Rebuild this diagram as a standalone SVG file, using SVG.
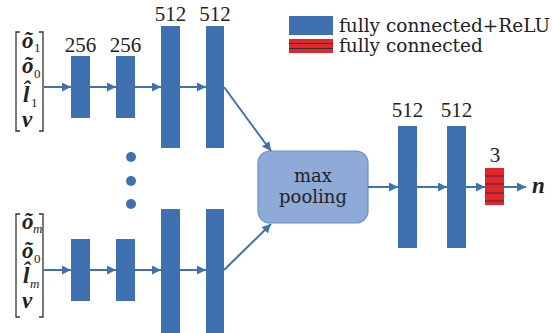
<svg xmlns="http://www.w3.org/2000/svg" width="552" height="333" viewBox="0 0 552 333">
<style>
.blk{fill:#3f71b1}
.num{font-family:"Liberation Serif",serif;font-size:21px;fill:#222;text-anchor:middle}
.lg{font-family:"DejaVu Serif","Liberation Serif",serif;font-size:18.5px;fill:#222}
.mp{font-family:"DejaVu Serif","Liberation Serif",serif;font-size:18px;fill:#222;text-anchor:middle}
.conn{stroke:#3f71b1;stroke-width:2;fill:none}
.var{font-family:"Liberation Serif",serif;font-size:23px;font-weight:bold;font-style:italic;fill:#222}
.sub{font-family:"Liberation Serif",serif;font-size:13px;fill:#222}
.br{stroke:#333;stroke-width:1.3;fill:none}
</style>
<defs>
<marker id="ah" viewBox="0 0 10 10" refX="10" refY="5" markerWidth="4.5" markerHeight="4.5" orient="auto" markerUnits="strokeWidth">
<path d="M0,0 L10,5 L0,10 z" fill="#3f71b1"/>
</marker>
</defs>
<rect width="552" height="333" fill="#fff"/>

<g id="legend">
<rect x="289" y="16" width="44" height="19" fill="#3f71b1"/>
<rect x="289" y="39" width="44" height="14" fill="#e2262b"/>
<line x1="289" y1="43.5" x2="333" y2="43.5" stroke="#333" stroke-width="1"/>
<line x1="289" y1="48.5" x2="333" y2="48.5" stroke="#333" stroke-width="1"/>
<text class="lg" x="339" y="32">fully connected+ReLU</text>
<text class="lg" x="339" y="52">fully connected</text>
</g>

<g id="input-top">
<path class="br" d="M20,32 H16 V131 H20"/>
<path class="br" d="M39,32 H43 V131 H39"/>
<text class="var" x="22" y="48">õ</text><text class="sub" x="34" y="52">1</text>
<text class="var" x="22" y="73">õ</text><text class="sub" x="34" y="78">0</text>
<text class="var" x="23" y="102">l&#x302;</text><text class="sub" x="31" y="107">1</text>
<text class="var" x="22" y="127">v</text>
</g>

<g id="input-bottom">
<path class="br" d="M20,214 H16 V317 H20"/>
<path class="br" d="M39,214 H43 V317 H39"/>
<text class="var" x="22" y="229">õ</text><text class="sub" x="33" y="233" font-style="italic">m</text>
<text class="var" x="22" y="258">õ</text><text class="sub" x="34" y="263">0</text>
<text class="var" x="23" y="283">l&#x302;</text><text class="sub" x="30" y="288" font-style="italic">m</text>
<text class="var" x="22" y="308">v</text>
</g>

<g id="top-fc1"><rect class="blk" x="71" y="56" width="19" height="62"/><text class="num" x="80.5" y="52">256</text></g>
<g id="top-fc2"><rect class="blk" x="116" y="56" width="19" height="62"/><text class="num" x="125.5" y="52">256</text></g>
<g id="top-fc3"><rect class="blk" x="161" y="26" width="19" height="122"/><text class="num" x="170.5" y="21">512</text></g>
<g id="top-fc4"><rect class="blk" x="206" y="26" width="18" height="122"/><text class="num" x="215" y="21">512</text></g>

<g id="dots">
<circle cx="131" cy="157" r="5" fill="#3f71b1"/>
<circle cx="131" cy="181" r="5" fill="#3f71b1"/>
<circle cx="131" cy="204" r="5" fill="#3f71b1"/>
</g>

<g id="bot-fc1"><rect class="blk" x="71" y="239" width="19" height="62"/></g>
<g id="bot-fc2"><rect class="blk" x="116" y="239" width="19" height="62"/></g>
<g id="bot-fc3"><rect class="blk" x="161" y="209" width="19" height="124"/></g>
<g id="bot-fc4"><rect class="blk" x="206" y="209" width="18" height="124"/></g>

<g id="maxpool">
<rect x="258" y="151" width="110" height="72" rx="12" fill="#8eaad6" stroke="#6a8fc4" stroke-width="1.2"/>
<text class="mp" x="313" y="182">max</text>
<text class="mp" x="313" y="203">pooling</text>
</g>

<g id="fc5"><rect class="blk" x="398" y="126" width="19" height="122"/><text class="num" x="407.5" y="117">512</text></g>
<g id="fc6"><rect class="blk" x="447" y="126" width="19" height="122"/><text class="num" x="456.5" y="117">512</text></g>

<g id="fc-out">
<rect x="485" y="168" width="19" height="37" fill="#e2262b"/>
<line x1="485" y1="176" x2="504" y2="176" stroke="#333" stroke-width="1"/>
<line x1="485" y1="184" x2="504" y2="184" stroke="#333" stroke-width="1"/>
<line x1="485" y1="193" x2="504" y2="193" stroke="#333" stroke-width="1"/>
<line x1="485" y1="201" x2="504" y2="201" stroke="#333" stroke-width="1"/>
<text class="num" x="495" y="162">3</text>
</g>

<g id="output"><text class="var" x="532" y="193">n</text></g>

<g id="connectors">
<line class="conn" x1="44" y1="87" x2="71" y2="87" marker-end="url(#ah)"/>
<line class="conn" x1="90" y1="87" x2="116" y2="87" marker-end="url(#ah)"/>
<line class="conn" x1="135" y1="87" x2="161" y2="87" marker-end="url(#ah)"/>
<line class="conn" x1="180" y1="87" x2="206" y2="87" marker-end="url(#ah)"/>
<line class="conn" x1="224" y1="87" x2="271" y2="151" marker-end="url(#ah)"/>
<line class="conn" x1="44" y1="270" x2="71" y2="270" marker-end="url(#ah)"/>
<line class="conn" x1="90" y1="270" x2="116" y2="270" marker-end="url(#ah)"/>
<line class="conn" x1="135" y1="270" x2="161" y2="270" marker-end="url(#ah)"/>
<line class="conn" x1="180" y1="270" x2="206" y2="270" marker-end="url(#ah)"/>
<line class="conn" x1="224" y1="270" x2="271" y2="224" marker-end="url(#ah)"/>
<line class="conn" x1="368" y1="187" x2="398" y2="187" marker-end="url(#ah)"/>
<line class="conn" x1="417" y1="187" x2="447" y2="187" marker-end="url(#ah)"/>
<line class="conn" x1="466" y1="187" x2="485" y2="187" marker-end="url(#ah)"/>
<line class="conn" x1="504" y1="187" x2="526" y2="187" marker-end="url(#ah)"/>
</g>
</svg>
